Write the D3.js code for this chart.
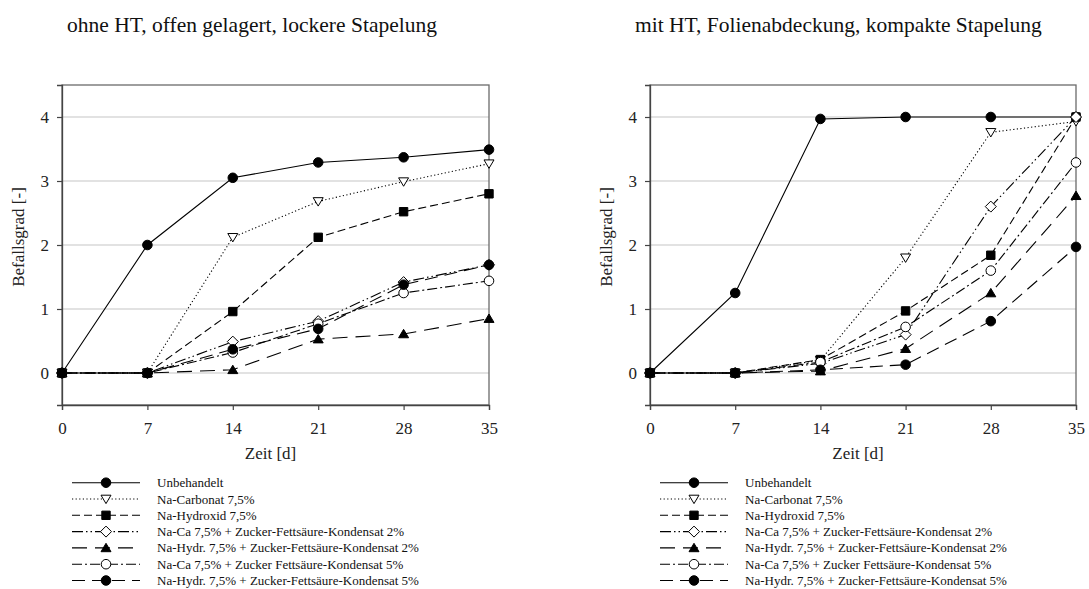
<!DOCTYPE html>
<html><head><meta charset="utf-8">
<script src="https://cdn.jsdelivr.net/npm/d3@7"></script>
<style>
html,body{margin:0;padding:0;background:#fff;}
svg{display:block;font-family:"Liberation Serif","Times New Roman",serif;}
</style></head>
<body><svg id="c" width="1089" height="589"></svg>
<script>
// ---- data ----
const days = [0, 7, 14, 21, 28, 35];
const yTicks = [0, 1, 2, 3, 4];
const seriesNames = [
  "Unbehandelt",
  "Na-Carbonat 7,5%",
  "Na-Hydroxid 7,5%",
  "Na-Ca 7,5% + Zucker-Fettsäure-Kondensat 2%",
  "Na-Hydr. 7,5% + Zucker-Fettsäure-Kondensat 2%",
  "Na-Ca 7,5% + Zucker Fettsäure-Kondensat 5%",
  "Na-Hydr. 7,5% + Zucker-Fettsäure-Kondensat 5%"
];
const panelTitles = ["ohne HT, offen gelagert, lockere Stapelung", "mit HT, Folienabdeckung, kompakte Stapelung"];
const xLabel = "Zeit [d]";
const yLabel = "Befallsgrad [-]";

// left panel
const L_unbeh    = [0, 2.00, 3.05, 3.29, 3.37, 3.49];
const L_carb     = [0, 0, 2.12, 2.68, 2.99, 3.27];
const L_hydrox   = [0, 0, 0.96, 2.12, 2.52, 2.80];
const L_naca2    = [0, 0, 0.49, 0.81, 1.42, 1.69];
const L_nahydr2  = [0, 0, 0.05, 0.53, 0.61, 0.85];
const L_naca5    = [0, 0, 0.32, 0.77, 1.25, 1.44];
const L_nahydr5  = [0, 0, 0.37, 0.69, 1.38, 1.69];
// right panel
const R_unbeh    = [0, 1.25, 3.97, 4.00, 4.00, 4.00];
const R_carb     = [0, 0, 0.20, 1.80, 3.76, 3.93];
const R_hydrox   = [0, 0, 0.21, 0.97, 1.84, 4.00];
const R_naca2    = [0, 0, 0.15, 0.60, 2.60, 4.00];
const R_nahydr2  = [0, 0, 0.03, 0.38, 1.25, 2.77];
const R_naca5    = [0, 0, 0.17, 0.72, 1.60, 3.29];
const R_nahydr5  = [0, 0, 0.05, 0.13, 0.81, 1.97];

// ---- styles ----
const styles = [
  {dash: null,               marker: "circle",  fill: "#000"},
  {dash: "1.2,2.4",          marker: "tridown", fill: "#fff"},
  {dash: "8,4",              marker: "square",  fill: "#000"},
  {dash: "11,3,1.5,3,1.5,3", marker: "diamond", fill: "#fff"},
  {dash: "15,8",             marker: "triup",   fill: "#000"},
  {dash: "10,3,2,3",         marker: "circle",  fill: "#fff"},
  {dash: "13,7",             marker: "circle",  fill: "#000"}
];

function markerPath(type){
  switch(type){
    case "circle": return d3.symbol(d3.symbolCircle, 72)();
    case "square": return "M-4.2,-4.2H4.2V4.2H-4.2Z";
    case "diamond": return "M0,-5.5L5.5,0L0,5.5L-5.5,0Z";
    case "tridown": return "M-5,-3.8L5,-3.8L0,4.6Z";
    case "triup": return "M-5,3.8L5,3.8L0,-4.6Z";
  }
}

const svg = d3.select("#c");
const panels = [
  {x0: 62, x1: 489, title: panelTitles[0], titleX: 67, series: [L_unbeh, L_carb, L_hydrox, L_naca2, L_nahydr2, L_naca5, L_nahydr5], legX: 72},
  {x0: 650, x1: 1076, title: panelTitles[1], titleX: 635, series: [R_unbeh, R_carb, R_hydrox, R_naca2, R_nahydr2, R_naca5, R_nahydr5], legX: 660}
];
const yTop = 85, yBot = 405;

panels.forEach(p => {
  const g = svg.append("g");
  const x = d3.scaleLinear().domain([0, 35]).range([p.x0, p.x1]);
  const y = d3.scaleLinear().domain([-0.5, 4.5]).range([yBot, yTop]);

  // title
  g.append("text").attr("x", p.titleX).attr("y", 32).attr("font-size", 21.5).attr("fill", "#111").text(p.title);

  // gridlines
  g.selectAll(".grid").data(yTicks).join("line")
    .attr("x1", p.x0).attr("x2", p.x1)
    .attr("y1", d => y(d)).attr("y2", d => y(d))
    .attr("stroke", "#d9d9d9").attr("stroke-width", 1.3);

  // frame
  g.append("rect").attr("x", p.x0).attr("y", yTop).attr("width", p.x1 - p.x0).attr("height", yBot - yTop)
    .attr("fill", "none").attr("stroke", "#6b6b6b").attr("stroke-width", 1.3);

  // axes
  const ya = g.append("g").attr("transform", `translate(${p.x0},0)`)
    .call(d3.axisLeft(y).tickValues(yTicks).tickSize(5).tickPadding(8).tickFormat(d3.format("d")));
  const xa = g.append("g").attr("transform", `translate(0,${yBot})`)
    .call(d3.axisBottom(x).tickValues(days).tickSize(5).tickPadding(12).tickFormat(d3.format("d")));
  [ya, xa].forEach(a => {
    a.select(".domain").attr("stroke", "#444").attr("stroke-width", 1.3);
    a.selectAll(".tick line").attr("stroke", "#444").attr("stroke-width", 1.2);
    a.selectAll(".tick text").attr("font-size", 17).attr("font-family", "Liberation Serif").attr("fill", "#222");
  });

  // axis labels
  g.append("text").attr("x", (p.x0 + p.x1) / 2 - 5).attr("y", 459).attr("text-anchor", "middle")
    .attr("font-size", 17).attr("fill", "#222").text(xLabel);
  g.append("text").attr("transform", `translate(${p.x0 - 38},${(yTop + yBot) / 2 - 8}) rotate(-90)`)
    .attr("text-anchor", "middle").attr("font-size", 17).attr("fill", "#222").text(yLabel);

  // lines
  const line = d3.line().x((d, i) => x(days[i])).y(d => y(d));
  p.series.forEach((s, k) => {
    g.append("path").datum(s).attr("d", line).attr("fill", "none")
      .attr("stroke", "#000").attr("stroke-width", 1.1)
      .attr("stroke-dasharray", styles[k].dash);
  });
  p.series.forEach((s, k) => {
    g.selectAll(null).data(s).join("path")
      .attr("transform", (d, i) => `translate(${x(days[i])},${y(d)})`)
      .attr("d", markerPath(styles[k].marker))
      .attr("fill", styles[k].fill).attr("stroke", "#000").attr("stroke-width", 1);
  });

  // legend
  const lg = g.append("g");
  seriesNames.forEach((name, k) => {
    const cy = 482.7 + k * 16.3;
    lg.append("line").attr("x1", p.legX).attr("x2", p.legX + 68).attr("y1", cy).attr("y2", cy)
      .attr("stroke", "#000").attr("stroke-width", 1.1).attr("stroke-dasharray", styles[k].dash);
    lg.append("path").attr("transform", `translate(${p.legX + 34},${cy})`)
      .attr("d", markerPath(styles[k].marker)).attr("fill", styles[k].fill).attr("stroke", "#000");
    lg.append("text").attr("x", p.legX + 85).attr("y", cy + 4.5).attr("font-size", 13).attr("fill", "#111").text(name);
  });
});
</script></body></html>
